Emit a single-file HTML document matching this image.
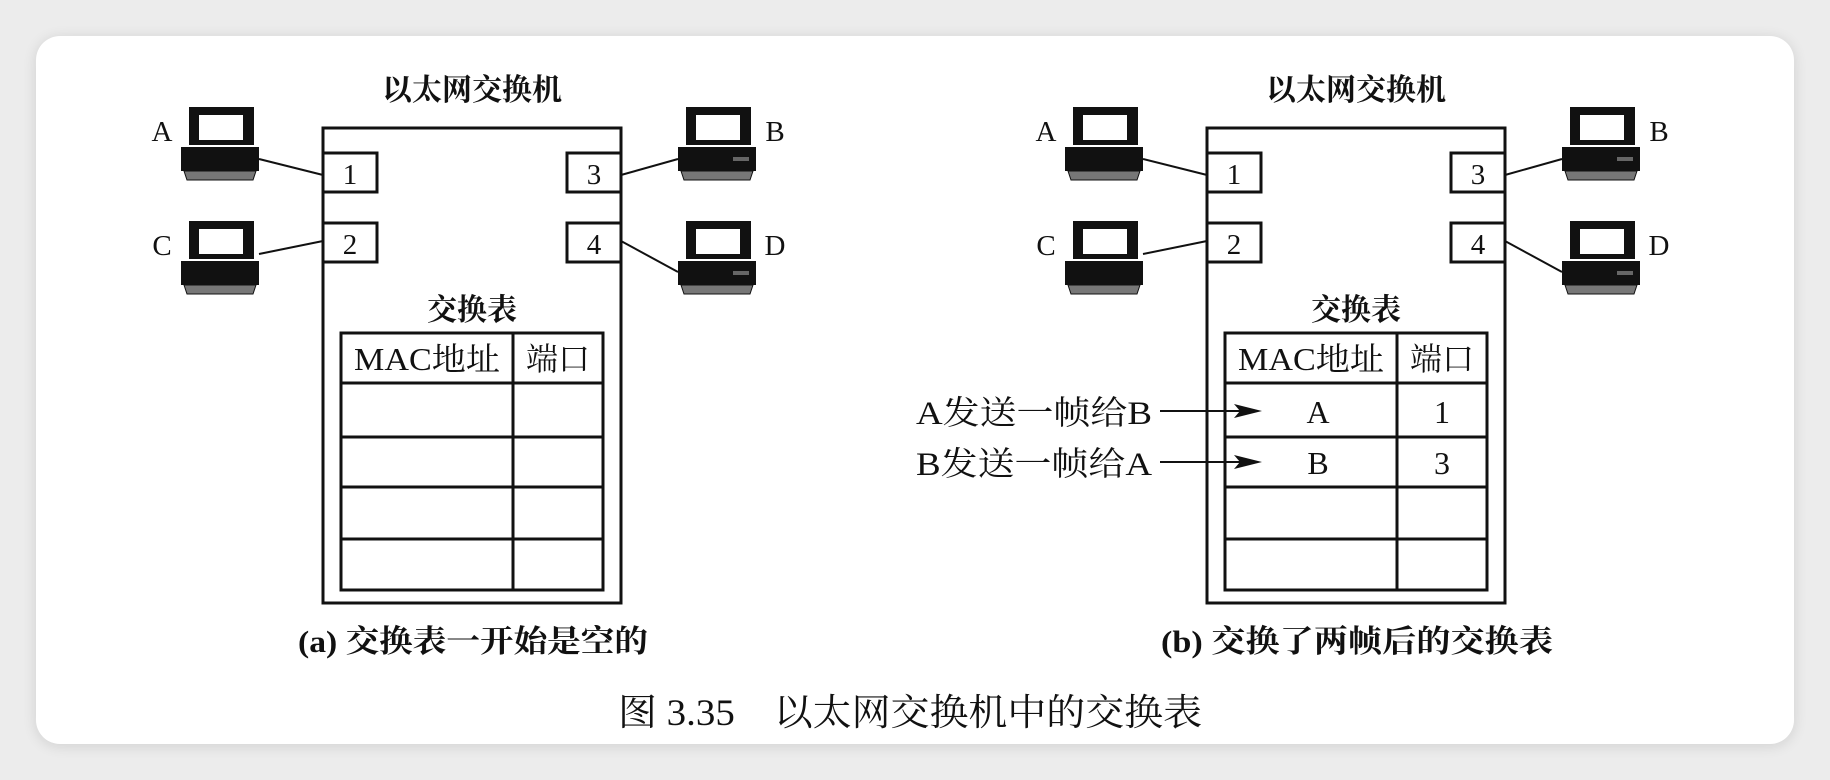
<!DOCTYPE html>
<html><head><meta charset="utf-8"><style>
html,body{margin:0;padding:0;background:#ececec;}
body{width:1830px;height:780px;overflow:hidden;position:relative;}
.card{position:absolute;left:36px;top:36px;width:1758px;height:708px;background:#fff;border-radius:24px;box-shadow:0 2px 14px rgba(0,0,0,0.12);}
svg{position:absolute;left:0;top:0;}
text{font-family:"Liberation Serif","Noto Serif CJK SC",serif;fill:#111;}
.b{font-weight:bold;}
</style></head><body>
<div class="card"></div>
<svg width="1830" height="780" viewBox="0 0 1830 780">
<defs>
<g id="pc">
<rect x="8" y="0" width="65" height="38" fill="#111"/>
<rect x="18" y="8" width="44" height="25" fill="#fff"/>
<rect x="0" y="40" width="78" height="24" fill="#111"/>
<polygon points="3,64 75,64 72,73 6,73" fill="#777" stroke="#111" stroke-width="1"/>
</g>
<g id="pcr">
<rect x="8" y="0" width="65" height="38" fill="#111"/>
<rect x="18" y="8" width="44" height="25" fill="#fff"/>
<rect x="0" y="40" width="78" height="24" fill="#111"/>
<rect x="55" y="50" width="16" height="4" fill="#666"/>
<polygon points="3,64 75,64 72,73 6,73" fill="#777" stroke="#111" stroke-width="1"/>
</g>
<g id="sw">
<text x="149" y="-28" font-size="30" text-anchor="middle" class="b">以太网交换机</text>
<rect x="0" y="0" width="298" height="475" fill="none" stroke="#111" stroke-width="3"/>
<rect x="0" y="25" width="54" height="39" fill="#fff" stroke="#111" stroke-width="3"/>
<rect x="0" y="95" width="54" height="39" fill="#fff" stroke="#111" stroke-width="3"/>
<rect x="244" y="25" width="54" height="39" fill="#fff" stroke="#111" stroke-width="3"/>
<rect x="244" y="95" width="54" height="39" fill="#fff" stroke="#111" stroke-width="3"/>
<text x="27" y="56" font-size="29" text-anchor="middle">1</text>
<text x="27" y="126" font-size="29" text-anchor="middle">2</text>
<text x="271" y="56" font-size="29" text-anchor="middle">3</text>
<text x="271" y="126" font-size="29" text-anchor="middle">4</text>
<line x1="-64" y1="31" x2="0" y2="47" stroke="#111" stroke-width="2"/>
<line x1="-64" y1="126" x2="0" y2="113" stroke="#111" stroke-width="2"/>
<line x1="298" y1="47" x2="355" y2="31" stroke="#111" stroke-width="2"/>
<line x1="298" y1="113" x2="355" y2="144" stroke="#111" stroke-width="2"/>
<use href="#pc" x="-142" y="-21"/>
<use href="#pc" x="-142" y="93"/>
<use href="#pcr" x="355" y="-21"/>
<use href="#pcr" x="355" y="93"/>
<text x="-161" y="13" font-size="29" text-anchor="middle">A</text>
<text x="-161" y="127" font-size="29" text-anchor="middle">C</text>
<text x="452" y="13" font-size="29" text-anchor="middle">B</text>
<text x="452" y="127" font-size="29" text-anchor="middle">D</text>
<text x="149" y="192" font-size="30" text-anchor="middle" class="b">交换表</text>
<rect x="18" y="205" width="262" height="257" fill="none" stroke="#111" stroke-width="3"/>
<line x1="18" y1="255" x2="280" y2="255" stroke="#111" stroke-width="3"/>
<line x1="18" y1="309" x2="280" y2="309" stroke="#111" stroke-width="3"/>
<line x1="18" y1="359" x2="280" y2="359" stroke="#111" stroke-width="3"/>
<line x1="18" y1="411" x2="280" y2="411" stroke="#111" stroke-width="3"/>
<line x1="190" y1="205" x2="190" y2="462" stroke="#111" stroke-width="3"/>
<text x="104" y="242" font-size="32" text-anchor="middle" textLength="146" lengthAdjust="spacingAndGlyphs">MAC地址</text>
<text x="235" y="242" font-size="32" text-anchor="middle">端口</text>
</g>
</defs>
<use href="#sw" x="323" y="128"/>
<use href="#sw" x="1207" y="128"/>
<text x="473" y="652" font-size="31" text-anchor="middle" class="b" textLength="350" lengthAdjust="spacingAndGlyphs">(a) 交换表一开始是空的</text>
<text x="1357" y="652" font-size="31" text-anchor="middle" class="b" textLength="392" lengthAdjust="spacingAndGlyphs">(b) 交换了两帧后的交换表</text>
<text x="1318" y="423" font-size="32" text-anchor="middle">A</text>
<text x="1442" y="423" font-size="32" text-anchor="middle">1</text>
<text x="1318" y="474" font-size="32" text-anchor="middle">B</text>
<text x="1442" y="474" font-size="32" text-anchor="middle">3</text>
<text x="1034" y="424" font-size="33" text-anchor="middle" textLength="236" lengthAdjust="spacingAndGlyphs">A发送一帧给B</text>
<text x="1034" y="475" font-size="33" text-anchor="middle" textLength="236" lengthAdjust="spacingAndGlyphs">B发送一帧给A</text>
<line x1="1160" y1="411" x2="1250" y2="411" stroke="#111" stroke-width="2"/>
<polygon points="1262,411 1234,404 1240,411 1234,418" fill="#111"/>
<line x1="1160" y1="462" x2="1250" y2="462" stroke="#111" stroke-width="2"/>
<polygon points="1262,462 1234,455 1240,462 1234,469" fill="#111"/>
<text x="910" y="725" font-size="37" text-anchor="middle" textLength="584" lengthAdjust="spacingAndGlyphs">图 3.35　以太网交换机中的交换表</text>
</svg>
</body></html>
